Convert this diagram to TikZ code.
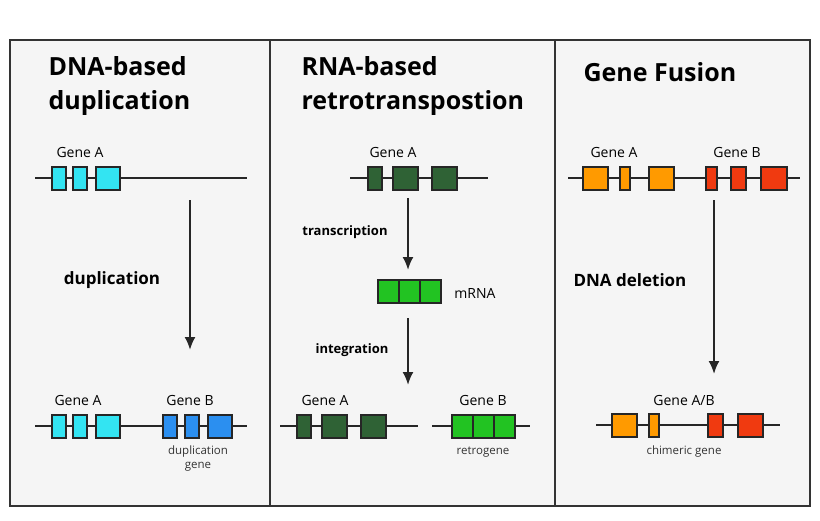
\documentclass[tikz,border=0pt]{standalone}
\usepackage{fontspec}
\setmainfont{Open Sans}
\usetikzlibrary{arrows.meta}
\definecolor{cyanA}{HTML}{33E4F2}
\definecolor{blueB}{HTML}{2B8FF0}
\definecolor{dkgreen}{HTML}{2F6235}
\definecolor{ltgreen}{HTML}{22C322}
\definecolor{orangeA}{HTML}{FF9A00}
\definecolor{redB}{HTML}{F03A10}
\begin{document}
\begin{tikzpicture}[x=1pt,y=-1pt,
  exon/.style={draw=black!85, line width=1.5pt},
  dna/.style={black!85, line width=1.6pt},
  flow/.style={-{Latex[length=13pt,width=11pt]}, line width=2pt, black!85},
  title/.style={font=\fontsize{25}{34}\selectfont\bfseries, anchor=west, align=left},
  lbl/.style={font=\fontsize{14}{16}\selectfont},
  note/.style={font=\fontsize{11.5}{14}\selectfont, align=center, text=black!80},
  act/.style={font=\fontsize{17}{20}\selectfont\bfseries},
  sact/.style={font=\fontsize{13}{15}\selectfont\bfseries}
]
\useasboundingbox (0,0) rectangle (820,520);
\fill[white] (0,0) rectangle (820,520);
\draw[fill=black!4, line width=1.6pt, draw=black!80] (10,40) rectangle (810,506);
\draw[line width=1.6pt, black!80] (270,40) -- (270,506);
\draw[line width=1.6pt, black!80] (555,40) -- (555,506);

% DNA-based duplication
\node[title] (t1) at (45,86) {DNA-based\\duplication};
\draw[dna] (35,178) -- (247,178);
\foreach \a/\b in {52/66,73/87,96/120}
  \draw[exon, fill=cyanA] (\a,167) rectangle (\b,190);
\node[lbl] (ga1) at (80,152) {Gene A};
\coordinate (d1s) at (190,200);
\coordinate (d1e) at (190,350);
\draw[flow] (d1s) -- (d1e);
\node[act] (dup) at (112,280) {duplication};
\draw[dna] (35,426) -- (247,426);
\foreach \a/\b in {52/66,73/87,96/120}
  \draw[exon, fill=cyanA] (\a,415) rectangle (\b,438);
\foreach \a/\b in {163/177,185/199,208/232}
  \draw[exon, fill=blueB] (\a,415) rectangle (\b,438);
\node[lbl] (ga2) at (78,400) {Gene A};
\node[lbl] (gb2) at (190,400) {Gene B};
\node[note] (dg) at (198,459) {duplication\\gene};

% RNA-based retrotransposition
\node[title] (t2) at (298,86) {RNA-based\\retrotranspostion};
\draw[dna] (350,178) -- (488,178);
\foreach \a/\b in {368/382,393/418,432/457}
  \draw[exon, fill=dkgreen] (\a,167) rectangle (\b,190);
\node[lbl] (ga3) at (393,152) {Gene A};
\coordinate (r1s) at (408,198);
\coordinate (r1e) at (408,270);
\draw[flow] (r1s) -- (r1e);
\node[sact] (tr) at (345,232) {transcription};
\foreach \a/\b in {378/399,399/420,420/441}
  \draw[exon, fill=ltgreen] (\a,280) rectangle (\b,303);
\node[lbl] (mrna) at (475,293) {mRNA};
\coordinate (r2s) at (408,318);
\coordinate (r2e) at (408,385);
\draw[flow] (r2s) -- (r2e);
\node[sact] (int) at (352,350) {integration};
\draw[dna] (280,426) -- (418,426);
\foreach \a/\b in {297/311,322/347,361/386}
  \draw[exon, fill=dkgreen] (\a,415) rectangle (\b,438);
\draw[dna] (432,426) -- (530,426);
\foreach \a/\b in {452/473,473/494,494/515}
  \draw[exon, fill=ltgreen] (\a,415) rectangle (\b,438);
\node[lbl] (ga4) at (325,400) {Gene A};
\node[lbl] (gb4) at (483,400) {Gene B};
\node[note] (rg) at (483,452) {retrogene};

% Gene fusion
\node[title] (t3) at (580,72) {Gene Fusion};
\draw[dna] (568,178) -- (800,178);
\foreach \a/\b in {583/608,620/630,649/674}
  \draw[exon, fill=orangeA] (\a,167) rectangle (\b,190);
\foreach \a/\b in {706/717,731/746,761/787}
  \draw[exon, fill=redB] (\a,167) rectangle (\b,190);
\node[lbl] (ga5) at (614,152) {Gene A};
\node[lbl] (gb5) at (737,152) {Gene B};
\coordinate (f1s) at (714,200);
\coordinate (f1e) at (714,374);
\draw[flow] (f1s) -- (f1e);
\node[act] (del) at (630,280) {DNA deletion};
\draw[dna] (596,425) -- (780,425);
\foreach \a/\b in {612/637,649/659}
  \draw[exon, fill=orangeA] (\a,414) rectangle (\b,437);
\foreach \a/\b in {708/723,738/763}
  \draw[exon, fill=redB] (\a,414) rectangle (\b,437);
\node[lbl] (gab) at (684,400) {Gene A/B};
\node[note] (cg) at (684,452) {chimeric gene};
\end{tikzpicture}
\end{document}
